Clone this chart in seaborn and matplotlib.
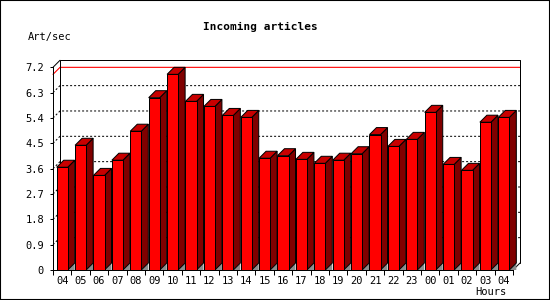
import numpy as np
import pandas as pd
import matplotlib
matplotlib.use("Agg")
import matplotlib.pyplot as plt
from matplotlib.patches import Polygon, Rectangle
import seaborn as sns

# ---- data ----
hours = ["04", "05", "06", "07", "08", "09", "10", "11", "12", "13", "14", "15",
         "16", "17", "18", "19", "20", "21", "22", "23", "00", "01", "02", "03", "04"]
rates = [3.65, 4.43, 3.36, 3.90, 4.93, 6.12, 6.95, 5.99, 5.81, 5.49, 5.42, 3.97,
         4.06, 3.93, 3.79, 3.90, 4.13, 4.81, 4.39, 4.64, 5.60, 3.75, 3.54, 5.25, 5.42]
yticks = [0, 0.9, 1.8, 2.7, 3.6, 4.5, 5.4, 6.3, 7.2]
ytick_labels = ["0", "0.9", "1.8", "2.7", "3.6", "4.5", "5.4", "6.3", "7.2"]
title = "Incoming articles"
ylabel = "Art/sec"
xlabel = "Hours"

sns.set_style("white")
plt.rcParams["font.family"] = ["DejaVu Sans Mono"]
plt.rcParams["font.size"] = 7.5
for k in ["text.color", "axes.labelcolor", "xtick.color", "ytick.color"]:
    plt.rcParams[k] = "black"

W, H = 550, 300
fig = plt.figure(figsize=(W / 100, H / 100), dpi=100)
left_px, right_px, bottom_px, top_px = 53, 513, 270, 67.3
ax = fig.add_axes([left_px / W, 1 - bottom_px / H,
                   (right_px - left_px) / W, (bottom_px - top_px) / H])

df = pd.DataFrame({"slot": np.arange(len(rates)), "rate": rates})
sns.barplot(data=df, x="slot", y="rate", color="#ff0000", saturation=1,
            width=0.6, edgecolor="black", linewidth=0.72, ax=ax, zorder=4)

n = len(rates)
ymax = yticks[-1]
ax.set_xlim(-0.5, n - 0.5)
ax.set_ylim(0, ymax)
ax.set_xlabel("")
ax.set_ylabel("")

# depth offset (pixels -> data units)
depth_px = 7
dx = depth_px / ((right_px - left_px) / n)
dy = depth_px / ((bottom_px - top_px) / ymax)

lw = 0.72
x0w, x1w = -0.5, n - 0.5

# back wall outline
ax.plot([x0w + dx, x0w + dx, x1w + dx, x1w + dx],
        [dy, ymax + dy, ymax + dy, dy], color="black", lw=lw, clip_on=False, zorder=2)
ax.plot([x0w, x0w + dx], [ymax, ymax + dy], color="black", lw=lw, clip_on=False, zorder=2)
ax.plot([x1w, x1w + dx], [0, dy], color="black", lw=lw, clip_on=False, zorder=2)

# dotted grid on back wall + left wall
for yv in yticks[1:-1]:
    ax.plot([x0w, x0w + dx, x1w + dx], [yv, yv + dy, yv + dy], color="black",
            lw=lw, linestyle=(0, (2, 2)), clip_on=False, zorder=1)

# max line (red)
vmax = max(rates)
ax.plot([x0w, x0w + dx, x1w + dx], [vmax, vmax + dy, vmax + dy], color="#ff0000",
        lw=0.8, clip_on=False, zorder=1.5)

# 3D faces from the bars seaborn laid out
for bar in list(ax.patches):
    bx = bar.get_x()
    bw = bar.get_width()
    bh = bar.get_height()
    x1 = bx + bw
    floor = Polygon([(x1, 0), (x1 + dx, dy), (x1 + dx, 0)], closed=True,
                    facecolor="#8c8c8c", edgecolor="none", clip_on=False, zorder=3)
    side = Polygon([(x1, 0), (x1 + dx, dy), (x1 + dx, bh + dy), (x1, bh)], closed=True,
                   facecolor="#800000", edgecolor="black", lw=lw, clip_on=False, zorder=3.5)
    top = Polygon([(bx, bh), (bx + dx, bh + dy), (x1 + dx, bh + dy), (x1, bh)], closed=True,
                  facecolor="#c80000", edgecolor="black", lw=lw, clip_on=False, zorder=3.5)
    ax.add_patch(floor)
    ax.add_patch(side)
    ax.add_patch(top)

# axes styling
for s in ["top", "right"]:
    ax.spines[s].set_visible(False)
for s in ["left", "bottom"]:
    ax.spines[s].set_linewidth(lw)
    ax.spines[s].set_color("black")
    ax.spines[s].set_zorder(6)

ax.set_yticks(yticks)
ax.set_yticklabels(ytick_labels)
ax.tick_params(axis="y", direction="out", length=2.4, width=lw, pad=4, left=True, labelsize=7.5)
ax.set_xticks(np.arange(n))
ax.set_xticklabels(hours)
ax.set_xticks(np.arange(n + 1) - 0.5, minor=True)
ax.tick_params(axis="x", which="major", length=0, pad=4.5, labelsize=7.5)
ax.tick_params(axis="x", which="minor", direction="out", length=3.6, width=lw, bottom=True)

fig.text(260 / W, 1 - 27 / H, title, ha="center", va="center", fontsize=8, fontweight="bold")
fig.text(28 / W, 1 - 37 / H, ylabel, ha="left", va="center", fontsize=7.5)
fig.text(507 / W, 1 - 292 / H, xlabel, ha="right", va="center", fontsize=7.5)

fig.patches.append(Rectangle((0, 0), 1, 1, transform=fig.transFigure, fill=False,
                             edgecolor="black", lw=1.5))

fig.savefig("out.png", dpi=100)
